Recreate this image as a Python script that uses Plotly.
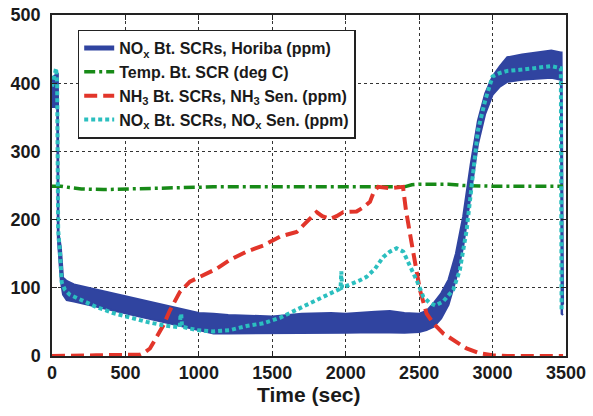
import plotly.graph_objects as go

# ---- data ----
horiba_t = [0, 35, 40, 45, 60, 75, 100, 150, 250, 400, 500, 650, 800, 900, 1000, 1100, 1200,
            1500, 1700, 1900, 2000, 2200, 2300, 2400, 2500, 2550, 2600, 2650, 2700, 2750, 2800,
            2850, 2900, 2950, 3000, 3050, 3100, 3200, 3300, 3400, 3465, 3470, 3480]
horiba_low = [365, 365, 170, 150, 110, 90, 82, 80, 75, 67, 62, 55, 48, 42, 37, 33, 33,
              33, 34, 34, 34, 35, 34, 34, 35, 38, 43, 55, 75, 112, 160,
              235, 310, 355, 383, 395, 402, 405, 407, 408, 405, 62, 60]
horiba_high = [408, 415, 415, 180, 160, 115, 110, 105, 100, 92, 88, 80, 73, 67, 63, 62, 60,
               58, 62, 63, 62, 65, 66, 63, 62, 66, 78, 92, 112, 150, 205,
               280, 345, 385, 410, 425, 438, 442, 445, 448, 445, 445, 75]

temp_t = [0, 60, 120, 200, 350, 500, 700, 900, 1100, 1500, 2000, 2400, 2450, 2500, 2700, 2800, 3000, 3480]
temp_v = [249, 249, 247, 245, 244, 245, 246, 247, 248, 248, 248, 248, 251, 252, 252, 250, 249, 249]

nh3_t = [0, 100, 300, 600, 622, 667, 712, 758, 803, 871, 939, 1030, 1121, 1212, 1325, 1439,
         1552, 1666, 1734, 1802, 1840, 1892, 1938, 1983, 2074, 2120, 2165, 2190, 2220, 2300,
         2390, 2410, 2437, 2460, 2483, 2505, 2551, 2596, 2664, 2732, 2823, 2913, 3000, 3100, 3480]
nh3_v = [0, 0, 1, 2, 4, 11, 28, 45, 67, 94, 109, 119, 128, 141, 153, 162,
         175, 182, 197, 211, 205, 201, 205, 211, 212, 218, 226, 240, 248, 246,
         248, 214, 180, 150, 121, 97, 62, 48, 33, 23, 11, 4, 1, 0, 0]

sens_t = [0, 15, 28, 35, 38, 42, 55, 66, 88, 120, 180, 300, 416, 530, 645, 758, 840, 870,
          875, 880, 885, 985, 1097, 1212, 1325, 1439, 1552, 1666, 1779, 1892, 1965, 1970,
          1975, 2097, 2142, 2200, 2255, 2300, 2346, 2392, 2437, 2483, 2528, 2570, 2610, 2664,
          2732, 2777, 2823, 2868, 2900, 2950, 3000, 3050, 3100, 3200, 3300, 3400, 3465, 3470]
sens_v = [395, 410, 422, 400, 250, 185, 150, 108, 97, 90, 84, 72, 63, 56, 50, 45, 43, 42,
          60, 62, 43, 38, 36, 38, 44, 48, 56, 68, 80, 91, 99, 124,
          100, 111, 116, 128, 145, 153, 158, 153, 133, 111, 87, 78, 74, 80,
          97, 126, 184, 272, 330, 375, 410, 415, 418, 420, 422, 425, 422, 65]

x_ticks = [0, 500, 1000, 1500, 2000, 2500, 3000, 3500]
y_ticks = [0, 100, 200, 300, 400, 500]
x_title = "Time (sec)"

names = ["NO<sub>x</sub> Bt. SCRs, Horiba (ppm)",
         "Temp. Bt. SCR (deg C)",
         "NH<sub>3</sub> Bt. SCRs, NH<sub>3</sub> Sen. (ppm)",
         "NO<sub>x</sub> Bt. SCRs, NO<sub>x</sub> Sen. (ppm)"]

BLUE = "#3044a0"
GREEN = "#178a17"
RED = "#e2352a"
CYAN = "#2bbfbf"
FONT = "Liberation Sans, Arial"

fig = go.Figure()
fig.add_trace(go.Scatter(x=horiba_t, y=horiba_low, mode="lines",
                         line=dict(color=BLUE, width=2), showlegend=False, hoverinfo="skip"))
fig.add_trace(go.Scatter(x=horiba_t, y=horiba_high, mode="lines", fill="tonexty",
                         fillcolor=BLUE, line=dict(color=BLUE, width=2), showlegend=False))
fig.add_trace(go.Scatter(x=[None], y=[None], mode="lines",
                         line=dict(color=BLUE, width=5), name=names[0]))
fig.add_trace(go.Scatter(x=temp_t, y=temp_v, mode="lines", name=names[1],
                         line=dict(color=GREEN, width=3.5, dash="11px,4px,3px,4px")))
fig.add_trace(go.Scatter(x=nh3_t, y=nh3_v, mode="lines", name=names[2],
                         line=dict(color=RED, width=4, dash="13px,6px")))
fig.add_trace(go.Scatter(x=sens_t, y=sens_v, mode="lines", name=names[3],
                         line=dict(color=CYAN, width=4, dash="4px,3px")))

axis_common = dict(
    showline=True, linecolor="#222", linewidth=1.5, mirror="ticks",
    ticks="inside", ticklen=5, tickcolor="#222",
    showgrid=True, gridcolor="#333", griddash="dot", gridwidth=1,
    zeroline=False, automargin=False, ticklabeloverflow="allow",
    tickfont=dict(family=FONT, size=18, color="#1a1a1a", weight="bold"),
)

fig.update_xaxes(range=[0, 3500], tickvals=x_ticks, ticktext=[str(v) for v in x_ticks],
                 ticklabelstandoff=0, **axis_common)
fig.update_yaxes(range=[0, 500], tickvals=y_ticks, ticktext=[str(v) for v in y_ticks],
                 ticklabelstandoff=6, **axis_common)

fig.add_annotation(text=x_title, xref="paper", yref="paper", x=0.5, y=-0.112,
                   xanchor="center", yanchor="middle", showarrow=False,
                   font=dict(family=FONT, size=21, color="#1a1a1a", weight="bold"))

fig.update_layout(
    width=593, height=416,
    margin=dict(l=52, r=27, t=15, b=60),
    plot_bgcolor="white", paper_bgcolor="white",
    showlegend=True,
    legend=dict(x=0.05, y=0.957, xanchor="left", yanchor="top", traceorder="normal",
                bgcolor="white", bordercolor="#222", borderwidth=1.5,
                font=dict(family=FONT, size=16, color="#1a1a1a", weight="bold"),
                itemwidth=30, tracegroupgap=0),
)

# remove the default 8px page margin so the figure fills the window exactly
fig.write_html("out.html", config={"displayModeBar": False},
               post_script="document.body.style.margin='0';document.body.style.overflow='hidden';")
